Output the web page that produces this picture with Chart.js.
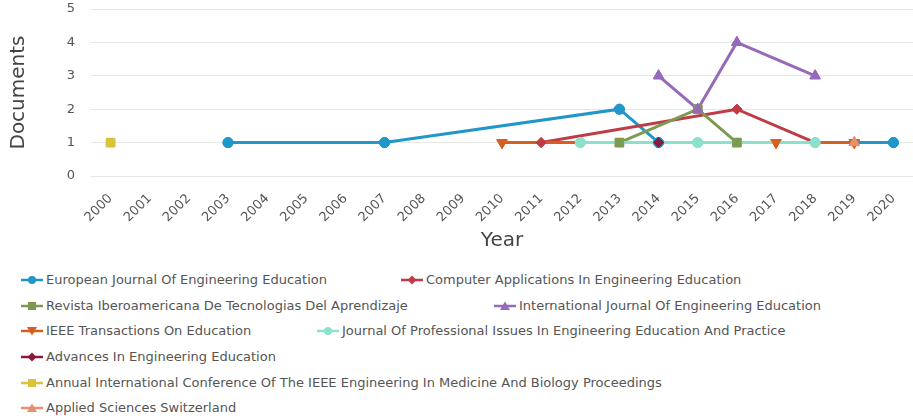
<!DOCTYPE html>
<html><head><meta charset="utf-8">
<script src="https://cdn.jsdelivr.net/npm/chart.js@4"></script>
<style>
html,body{margin:0;padding:0;background:#fff;}
#wrap{position:relative;width:913px;height:418px;overflow:hidden;font-family:"DejaVu Sans",sans-serif;}
#cbox{position:absolute;left:0;top:0;width:913px;height:254px;}
.li{position:absolute;display:flex;align-items:center;height:16px;font-size:13px;color:#555;white-space:nowrap;line-height:16px;}
.li svg{margin-right:3px;flex:none;}
</style></head><body>
<div id="wrap"><div id="cbox"><canvas id="cv"></canvas></div><div id="legend"></div></div>
<script>
const years = ['2000','2001','2002','2003','2004','2005','2006','2007','2008','2009','2010','2011','2012','2013','2014','2015','2016','2017','2018','2019','2020'];
const yTickValues = [0,1,2,3,4,5];
const seriesNames = [
  'European Journal Of Engineering Education',
  'Computer Applications In Engineering Education',
  'Revista Iberoamericana De Tecnologias Del Aprendizaje',
  'International Journal Of Engineering Education',
  'IEEE Transactions On Education',
  'Journal Of Professional Issues In Engineering Education And Practice',
  'Advances In Engineering Education',
  'Annual International Conference Of The IEEE Engineering In Medicine And Biology Proceedings',
  'Applied Sciences Switzerland'
];
//                        2000 01   02   03  04   05   06   07  08   09   10   11   12   13  14   15   16   17   18   19   20
const europeanJournal  = [null,null,null,1,null,null,null,1,null,null,null,null,null,2,   1,   null,null,null,null,null,1];
const computerApps     = [null,null,null,null,null,null,null,null,null,null,null,1,null,null,null,null,2,null,1,null,null];
const revistaIbero     = [null,null,null,null,null,null,null,null,null,null,null,null,null,1,null,2,1,null,null,null,null];
const intlJournal      = [null,null,null,null,null,null,null,null,null,null,null,null,null,null,3,2,4,null,3,null,null];
const ieeeTransactions = [null,null,null,null,null,null,null,null,null,null,1,null,null,null,null,null,null,1,null,1,null];
const profIssues       = [null,null,null,null,null,null,null,null,null,null,null,null,1,null,null,1,null,null,1,null,null];
const advancesEng      = [null,null,null,null,null,null,null,null,null,null,null,null,null,null,1,null,null,null,null,null,null];
const annualConf       = [1,null,null,null,null,null,null,null,null,null,null,null,null,null,null,null,null,null,null,null,null];
const appliedSciences  = [null,null,null,null,null,null,null,null,null,null,null,null,null,null,null,null,null,null,null,1,null];

const seriesValues = [europeanJournal, computerApps, revistaIbero, intlJournal, ieeeTransactions, profIssues, advancesEng, annualConf, appliedSciences];
const colors = ['#2196c8','#be3c46','#7d9b50','#9669b9','#d65f20','#8ce0cc','#8c1937','#d7c33c','#e6916e'];
const styles = [
  {s:'circle',r:5,rot:0},
  {s:'rectRot',r:5,rot:0},
  {s:'rect',r:6,rot:0},
  {s:'triangle',r:6,rot:0},
  {s:'triangle',r:6,rot:180},
  {s:'circle',r:5,rot:0},
  {s:'rectRot',r:5,rot:0},
  {s:'rect',r:6,rot:0},
  {s:'triangle',r:6,rot:0}
];

const datasets = seriesValues.map((vals,i)=>({
  label: seriesNames[i],
  data: vals,
  borderColor: colors[i],
  backgroundColor: colors[i],
  pointBackgroundColor: colors[i],
  pointBorderColor: colors[i],
  pointStyle: styles[i].s,
  pointRadius: styles[i].r,
  pointRotation: styles[i].rot,
  pointBorderWidth: 1,
  borderWidth: 3,
  spanGaps: true,
  tension: 0,
  clip: false,
  order: -i
}));

const pointsOnTop = {
  id:'pointsOnTop',
  afterDatasetsDraw(chart){
    const ctx = chart.ctx;
    const metas = chart.getSortedVisibleDatasetMetas();
    for (let i = metas.length-1; i >= 0; i--) {
      metas[i].data.forEach(el => { if (!el.skip) el.draw(ctx, chart.chartArea); });
    }
  }
};

new Chart(document.getElementById('cv'), {
  type: 'line',
  data: { labels: years, datasets },
  plugins: [pointsOnTop],
  options: {
    responsive: true,
    maintainAspectRatio: false,
    animation: false,
    layout: { padding: 0, autoPadding: false },
    plugins: { legend: { display: false }, tooltip: { enabled: false } },
    scales: {
      x: {
        type: 'category',
        offset: true,
        grid: { display: false, drawTicks: false },
        border: { display: false },
        ticks: { autoSkip: false, maxRotation: 45, minRotation: 45, padding: 15, color: '#555', font: { family: 'DejaVu Sans', size: 13 } },
        title: { display: true, text: 'Year', color: '#444', font: { family: 'DejaVu Sans', size: 20 }, padding: { top: 0, bottom: 1 } },
        afterFit: (s) => { s.height = 254 - 176; s.paddingLeft = 0; s.paddingRight = 0; }
      },
      y: {
        min: 0, max: 5,
        afterBuildTicks: (s) => { s.ticks = yTickValues.map(v => ({ value: v })); },
        grid: { color: '#e6e6e6', drawTicks: false, lineWidth: 1 },
        border: { display: false },
        ticks: { padding: 16, color: '#555', font: { family: 'DejaVu Sans', size: 13 } },
        title: { display: true, text: 'Documents', color: '#444', font: { family: 'DejaVu Sans', size: 20 }, padding: { top: 7, bottom: 0 } },
        afterFit: (s) => { s.width = 91; s.paddingTop = 9; s.paddingBottom = 0; }
      }
    }
  }
});

// HTML legend
const legendRows = [[0,1],[2,3],[4,5],[6],[7],[8]];
const legendX = [[21,401],[21,494],[21,317],[21],[21],[21]];
function markerSvg(i){
  const c = colors[i], st = styles[i];
  let shape = '';
  if (st.s === 'circle') shape = `<circle cx="11" cy="6" r="4" fill="${c}"/>`;
  else if (st.s === 'rect') shape = `<rect x="7" y="2" width="8" height="8" fill="${c}"/>`;
  else if (st.s === 'rectRot') shape = `<polygon points="11,1.5 15.5,6 11,10.5 6.5,6" fill="${c}"/>`;
  else if (st.rot === 180) shape = `<polygon points="6,2 16,2 11,10.5" fill="${c}"/>`;
  else shape = `<polygon points="11,1.5 16,10 6,10" fill="${c}"/>`;
  return `<svg width="22" height="12" viewBox="0 0 22 12"><line x1="0" y1="6" x2="22" y2="6" stroke="${c}" stroke-width="2.5"/>${shape}</svg>`;
}
const lg = document.getElementById('legend');
legendRows.forEach((row, r) => {
  const cy = 280 + r * 25.65;
  row.forEach((idx, k) => {
    const d = document.createElement('div');
    d.className = 'li';
    d.style.left = legendX[r][k] + 'px';
    d.style.top = (cy - 8) + 'px';
    d.innerHTML = markerSvg(idx) + '<span>' + seriesNames[idx] + '</span>';
    lg.appendChild(d);
  });
});
</script>
</body></html>
